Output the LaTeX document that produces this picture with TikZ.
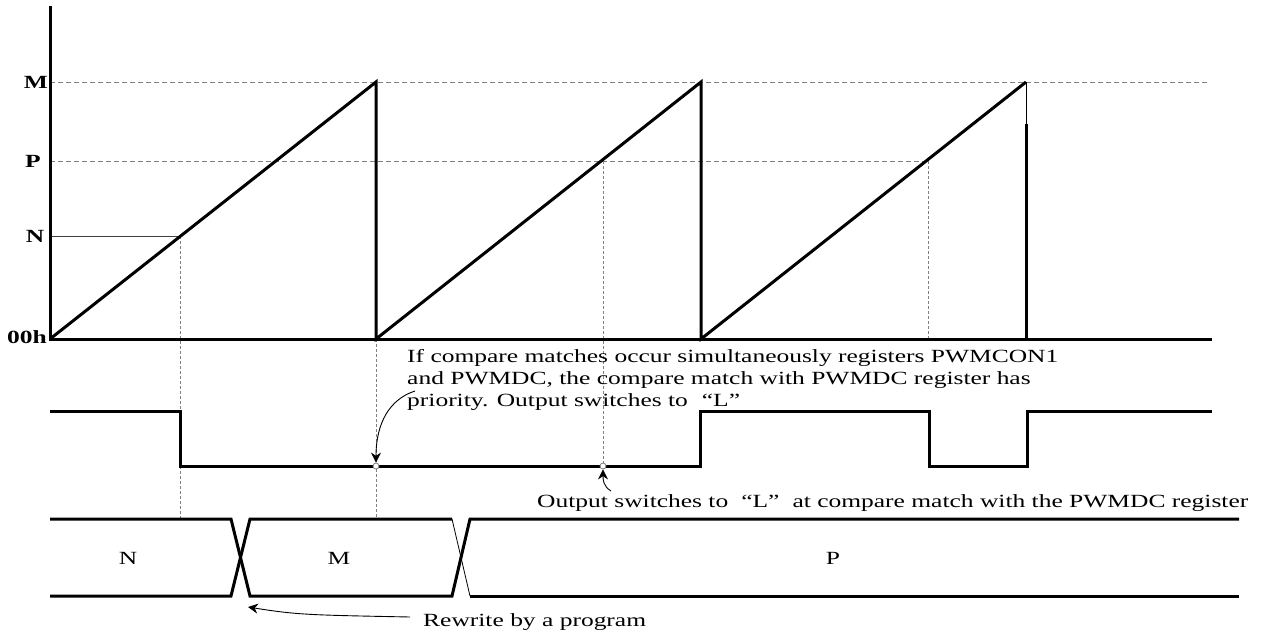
\documentclass[tikz,border=0pt]{standalone}
\usepackage{fontspec}
\setmainfont[FakeStretch=1.37]{Liberation Serif}
\usepackage{xcolor}
\usepackage{tikz}
\usetikzlibrary{arrows.meta}

\begin{document}
\begin{tikzpicture}[x=1pt, y=-1pt,
    wave/.style={line width=3pt, line join=miter},
    guide/.style={gray, line width=0.8pt, dash pattern=on 5pt off 3pt},
    vguide/.style={gray, line width=0.7pt, dash pattern=on 3pt off 2pt},
    lbl/.style={inner sep=0pt, font=\fontsize{18.6}{22}\selectfont},
    axlbl/.style={lbl, font=\fontsize{18.6}{22}\selectfont\bfseries},
    dot/.style={circle, draw=gray, fill=white, line width=0.8pt, inner sep=0pt, minimum size=6pt},
    pointer/.style={-{Stealth[length=10pt,width=10pt]}, line width=0.9pt}]
\useasboundingbox (0,0) rectangle (1266,635);
% guide lines
\draw[guide] (50,82) -- (1210,82);
\draw[guide] (50,161) -- (928,161);
\draw[darkgray, line width=0.8pt] (50,236) -- (180,236);
\draw[vguide] (180,236) -- (180,519);
\draw[vguide] (376,339) -- (376,519);
\draw[vguide] (603,161) -- (603,463);
\draw[vguide] (928,161) -- (928,339);
% axes
\draw[wave] (50,6) -- (50,339) -- (1212,339);
\node[axlbl] (lvM) at (36,82) {M};
\node[axlbl] (lvP) at (33,161) {P};
\node[axlbl] (lvN) at (35,236) {N};
\node[axlbl, anchor=base east] (lv0) at (47,343) {00h};
% counter ramps
\draw[wave] (50,339) -- (376,82) -- (376,339) -- (701,82) -- (701,339) -- (1026,82);
\draw[line width=0.8pt] (1026,82) -- (1026,124);
\draw[wave] (1026,124) -- (1026,339);
% output
\draw[wave] (50,411) -- (180,411) -- (180,466) -- (700,466) -- (700,411) -- (929,411)
    -- (929,466) -- (1027,466) -- (1027,411) -- (1212,411);
\node[dot] (c1) at (376,466) {};
\node[dot] (c2) at (603,466) {};
% register value
\draw[wave] (50,519) -- (231,519) -- (250,596) -- (452,596) -- (470,519) -- (1239,519);
\draw[wave] (50,596) -- (231,596) -- (250,519) -- (452,519);
\draw[line width=0.8pt] (452,519) -- (470,596);
\draw[wave] (470,596) -- (1239,596);
\node[lbl] (vN) at (128,558) {N};
\node[lbl] (vM) at (339,558) {M};
\node[lbl] (vP) at (833,558) {P};
% notes
\node[lbl, anchor=north west, align=left] (note1) at (407,349)
    {If compare matches occur simultaneously registers PWMCON1\\
     and PWMDC, the compare match with PWMDC register has\\
     priority. Output switches to\hspace{0.75em}“L”};
\node[lbl, anchor=base west] (note2) at (537,507)
    {Output switches to\hspace{0.7em}“L”\hspace{0.7em}at compare match with the PWMDC register};
\node[lbl, anchor=base west] (note3) at (423,626) {Rewrite by a program};
\coordinate (t1) at (415,391);
\coordinate (t2) at (611,491);
\coordinate (t3) at (410,617);
\coordinate (x1) at (248,607);
\draw[pointer] (t1) .. controls +(-25,8) and +(0,-40) .. (c1.north);
\draw[pointer] (t2) .. controls +(-8,-5) and +(0,10) .. (c2.south);
\draw[pointer] (t3) .. controls +(-100,-2) and +(50,8) .. (x1);
\end{tikzpicture}
\end{document}
